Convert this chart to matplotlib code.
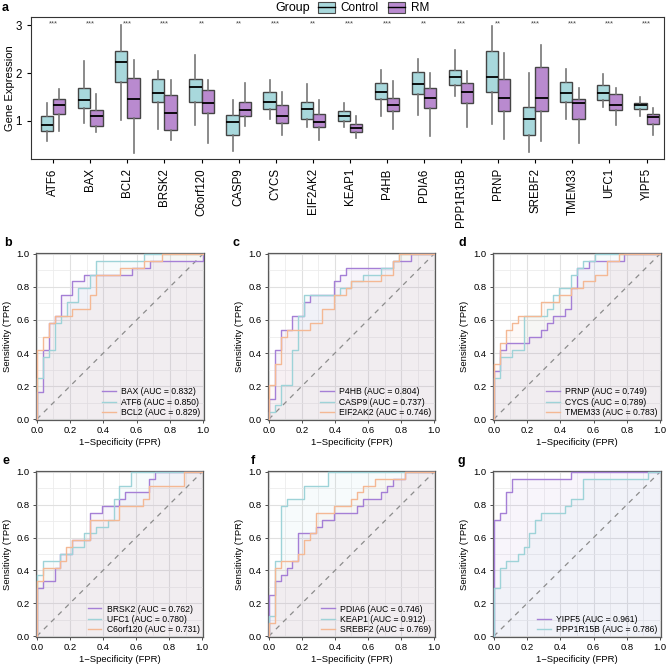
import matplotlib
matplotlib.use("Agg")
import matplotlib.pyplot as plt
from matplotlib.patches import Patch
from matplotlib.lines import Line2D

plt.rcParams['font.family'] = ['Liberation Sans', 'DejaVu Sans']

# ---------------- Panel a data ----------------
genes = ["ATF6", "BAX", "BCL2", "BRSK2", "C6orf120", "CASP9", "CYCS", "EIF2AK2",
         "KEAP1", "P4HB", "PDIA6", "PPP1R15B", "PRNP", "SREBF2", "TMEM33", "UFC1", "YIPF5"]
signif = ["***", "***", "***", "***", "**", "**", "***", "**",
          "***", "***", "**", "***", "**", "***", "***", "***", "***"]
# (whisker low, q1, median, q3, whisker high)
control_stats = [
    (0.59, 0.78, 0.92, 1.10, 1.37),
    (0.95, 1.28, 1.44, 1.69, 2.25),
    (1.01, 1.81, 2.24, 2.46, 3.00),
    (0.84, 1.40, 1.58, 1.88, 2.04),
    (0.92, 1.39, 1.71, 1.88, 2.37),
    (0.38, 0.70, 0.97, 1.12, 1.44),
    (1.03, 1.24, 1.39, 1.61, 1.85),
    (0.88, 1.04, 1.24, 1.39, 1.77),
    (0.88, 0.99, 1.10, 1.21, 1.38),
    (1.10, 1.45, 1.61, 1.79, 2.06),
    (1.13, 1.56, 1.77, 2.03, 2.30),
    (1.53, 1.74, 1.91, 2.06, 2.48),
    (0.94, 1.60, 1.92, 2.46, 2.98),
    (0.36, 0.71, 1.05, 1.29, 2.01),
    (1.05, 1.40, 1.58, 1.81, 2.08),
    (1.29, 1.44, 1.58, 1.76, 1.99),
    (1.10, 1.25, 1.33, 1.38, 1.49),
]
rm_stats = [
    (0.78, 1.14, 1.33, 1.46, 1.67),
    (0.76, 0.89, 1.10, 1.22, 1.56),
    (0.33, 1.06, 1.45, 1.90, 2.27),
    (0.60, 0.80, 1.17, 1.55, 1.85),
    (0.54, 1.16, 1.37, 1.65, 1.85),
    (0.90, 1.10, 1.22, 1.39, 1.80),
    (0.71, 0.95, 1.11, 1.33, 1.60),
    (0.60, 0.88, 0.97, 1.14, 1.44),
    (0.64, 0.77, 0.85, 0.93, 1.10),
    (0.83, 1.20, 1.34, 1.47, 1.83),
    (0.69, 1.28, 1.48, 1.69, 2.01),
    (0.88, 1.37, 1.61, 1.79, 2.04),
    (0.63, 1.20, 1.48, 1.88, 2.42),
    (0.59, 1.20, 1.48, 2.12, 2.58),
    (0.54, 1.05, 1.37, 1.46, 1.69),
    (0.92, 1.22, 1.34, 1.56, 1.69),
    (0.70, 0.94, 1.08, 1.14, 1.26),
]

# ---------------- ROC data ----------------
N_CTRL = 28   # number of controls (FPR denominator)
N_CASE = 24   # number of cases (TPR denominator)
# each curve: list of (k, j): at FPR k/N_CTRL the TPR rises to j/N_CASE
roc_panels = [
    ("b", [("BAX", 0.832, [(0,4),(1,10),(2,14),(3,15),(4,18),(6,20),(8,21),(16,22),(19,23),(28,24)]),
           ("ATF6", 0.850, [(0,6),(1,9),(2,10),(3,14),(4,15),(5,17),(7,19),(9,21),(10,23),(18,24)]),
           ("BCL2", 0.829, [(0,10),(1,12),(2,14),(3,15),(6,16),(9,18),(10,21),(14,22),(18,23),(21,24)])]),
    ("c", [("P4HB", 0.804, [(0,3),(1,10),(2,13),(4,15),(6,17),(7,18),(11,20),(12,21),(13,22),(21,23),(24,24)]),
           ("CASP9", 0.737, [(0,1),(1,2),(2,5),(4,10),(5,15),(6,18),(12,19),(14,20),(16,21),(19,22),(21,23),(22,24)]),
           ("EIF2AK2", 0.746, [(0,5),(1,8),(2,12),(3,13),(7,14),(9,16),(11,18),(13,19),(14,20),(19,21),(21,23),(22,24)])]),
    ("d", [("PRNP", 0.749, [(0,7),(1,10),(2,11),(6,12),(8,13),(9,14),(10,15),(12,16),(13,19),(14,22),(16,23),(22,24)]),
           ("CYCS", 0.789, [(0,6),(1,9),(3,10),(5,15),(9,16),(10,18),(11,19),(13,21),(14,22),(15,23),(17,24)]),
           ("TMEM33", 0.783, [(0,8),(1,11),(2,13),(3,14),(4,15),(8,17),(11,18),(13,19),(15,20),(17,21),(19,23),(21,24)])]),
    ("e", [("BRSK2", 0.762, [(0,7),(1,8),(3,10),(4,12),(6,14),(9,18),(11,19),(14,20),(15,21),(19,23),(20,24)]),
           ("UFC1", 0.780, [(0,9),(1,11),(4,12),(6,13),(8,15),(10,16),(12,17),(13,20),(14,22),(16,24)]),
           ("C6orf120", 0.731, [(0,8),(1,10),(4,11),(5,13),(6,14),(9,17),(14,19),(18,20),(19,22),(25,24)])]),
    ("f", [("PDIA6", 0.746, [(0,6),(1,8),(2,9),(3,10),(4,11),(5,15),(8,16),(9,17),(11,18),(15,19),(16,20),(19,21),(20,22),(21,23),(23,24)]),
           ("KEAP1", 0.912, [(0,3),(1,11),(2,19),(3,20),(6,22),(10,24)]),
           ("SREBF2", 0.769, [(0,2),(1,10),(2,11),(5,12),(6,14),(7,15),(8,18),(11,19),(14,20),(15,21),(16,22),(18,23),(23,24)])]),
    ("g", [("YIPF5", 0.961, [(0,17),(1,18),(2,21),(3,23),(13,24)]),
           ("PPP1R15B", 0.786, [(0,7),(1,10),(2,11),(4,12),(5,13),(6,15),(7,17),(8,18),(12,19),(13,20),(15,23),(26,24)])]),
]
roc_colors = ["#A57FD6", "#9ED3D8", "#F4B894"]

ctrl_fill = "#A8D8DC"
rm_fill = "#B98ACF"

fig = plt.figure(figsize=(6.69, 6.69), dpi=100)

# ---------------- Panel a ----------------
ax = fig.add_axes([0.0463, 0.762, 0.9462, 0.2126])
def mk(s):
    return dict(whislo=s[0], q1=s[1], med=s[2], q3=s[3], whishi=s[4], fliers=[])
pos = list(range(len(genes)))
w = 0.33
for stats, off, fc in ((control_stats, -0.165, ctrl_fill), (rm_stats, 0.165, rm_fill)):
    ax.bxp([mk(s) for s in stats], positions=[p + off for p in pos], widths=w,
           showcaps=False, patch_artist=True, showfliers=False,
           boxprops=dict(facecolor=fc, edgecolor="#454545", linewidth=1.0),
           whiskerprops=dict(color="#777777", linewidth=1.2),
           medianprops=dict(color="black", linewidth=1.3), manage_ticks=False)
for p, s in zip(pos, signif):
    ax.text(p, 3.03, s, ha="center", va="center", fontsize=5.5, color="#444444")
ax.set_xlim(-0.6, 16.47)
ax.set_ylim(0.2, 3.17)
ax.set_yticks([1, 2, 3])
ax.set_xticks(pos)
ax.set_xticklabels(genes, rotation=90, fontsize=8.3)
ax.tick_params(axis="y", labelsize=8.3, length=3, width=0.8)
ax.tick_params(axis="x", length=3, width=0.8)
for sp in ax.spines.values():
    sp.set_linewidth(0.8)
    sp.set_color("#333333")
ax.set_ylabel("Gene Expression", fontsize=8)
ax.yaxis.set_label_coords(-0.026, 0.5)
fig.text(0.003, 0.988, "a", fontsize=9, fontweight="bold", va="center")

# legend
fig.text(0.411, 0.988, "Group", fontsize=9, va="center", ha="left")
handles = [(Patch(facecolor=ctrl_fill, edgecolor="#4a4a4a", linewidth=0.8), Line2D([], [], color="black", lw=1)),
           (Patch(facecolor=rm_fill, edgecolor="#4a4a4a", linewidth=0.8), Line2D([], [], color="black", lw=1))]
fig.legend(handles, ["Control", "RM"], ncol=2, loc="center left", bbox_to_anchor=(0.476, 0.988),
           frameon=False, fontsize=8.5, handlelength=1.4, handleheight=1.1, handletextpad=0.5,
           columnspacing=0.8, borderaxespad=0, borderpad=0)

# ---------------- ROC panels ----------------
positions = {
    "b": [0.0538, 0.3722, 0.251, 0.2496],
    "c": [0.4006, 0.3722, 0.2496, 0.2496],
    "d": [0.7369, 0.3722, 0.251, 0.2496],
    "e": [0.0538, 0.0478, 0.2496, 0.2481],
    "f": [0.4006, 0.0478, 0.2496, 0.2481],
    "g": [0.7369, 0.0478, 0.251, 0.2481],
}
label_pos = {"b": (0.006, 0.637), "c": (0.347, 0.637), "d": (0.686, 0.637),
             "e": (0.003, 0.311), "f": (0.375, 0.311), "g": (0.684, 0.311)}

for letter, curves in roc_panels:
    axr = fig.add_axes(positions[letter])
    axr.set_xlim(-0.005, 1.005)
    axr.set_ylim(-0.005, 1.005)
    axr.set_xticks([0, 0.2, 0.4, 0.6, 0.8, 1.0])
    axr.set_yticks([0, 0.2, 0.4, 0.6, 0.8, 1.0])
    axr.set_xticks([0.1, 0.3, 0.5, 0.7, 0.9], minor=True)
    axr.set_yticks([0.1, 0.3, 0.5, 0.7, 0.9], minor=True)
    axr.grid(True, which="major", color="#e0e0e0", linewidth=0.8, zorder=0)
    axr.grid(True, which="minor", color="#ececec", linewidth=0.6, zorder=0)
    axr.tick_params(which="minor", length=0)
    axr.set_axisbelow(True)
    axr.plot([0, 1], [0, 1], ls=(0, (4, 4)), color="#8c8c8c", lw=0.9, zorder=2)
    lines = []
    for (name, auc, steps), col in zip(curves, roc_colors):
        xs, ys = [0.0], [0.0]
        cur = 0.0
        for k, j in steps:
            xs.append(k / N_CTRL); ys.append(cur)
            cur = j / N_CASE
            xs.append(k / N_CTRL); ys.append(cur)
        xs.append(1.0); ys.append(cur)
        axr.fill_between(xs, ys, 0, color=col, alpha=0.075, linewidth=0, zorder=1)
        ln, = axr.plot(xs, ys, color=col, lw=1.0, zorder=3,
                       label=f"{name} (AUC = {auc:.3f})")
        lines.append(ln)
    axr.legend(handles=lines, loc="lower right", frameon=False, fontsize=6.2,
               handlelength=1.6, handletextpad=0.6, labelspacing=0.12,
               borderaxespad=0.2, borderpad=0.2)
    axr.tick_params(which="major", labelsize=6.8, length=2.5, width=0.7, color="#4d4d4d", pad=2)
    for sp in axr.spines.values():
        sp.set_linewidth(0.9)
        sp.set_color("#5a5a5a")
    axr.set_xlabel("1\u2212Specificity (FPR)", fontsize=6.8, labelpad=2)
    axr.set_ylabel("Sensitivity (TPR)", fontsize=6.8, labelpad=3)
    lx, ly = label_pos[letter]
    fig.text(lx, ly, letter, fontsize=9, fontweight="bold", va="center")

fig.savefig("out.png", dpi=100)
